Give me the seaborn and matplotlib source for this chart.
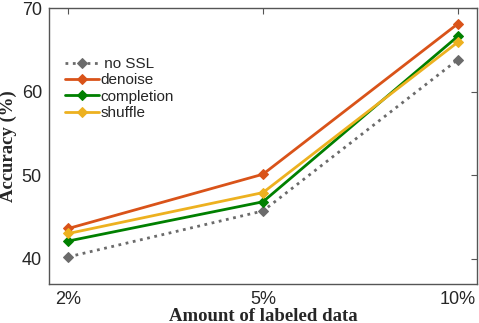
import pandas as pd
import matplotlib
matplotlib.use('Agg')
import matplotlib.pyplot as plt
import seaborn as sns

# Accuracy vs. amount of labeled data, per SSL pretext task
amounts = ['2%', '5%', '10%']
no_ssl = [40.2, 45.7, 63.8]
denoise = [43.6, 50.1, 68.1]
completion = [42.1, 46.8, 66.6]
shuffle = [43.0, 47.9, 65.9]

series = {' no SSL': no_ssl, 'denoise': denoise, 'completion': completion, 'shuffle': shuffle}
colors = {' no SSL': '#6b6b6b', 'denoise': '#D95319', 'completion': '#008000', 'shuffle': '#EDB120'}
styles = {' no SSL': ':', 'denoise': '-', 'completion': '-', 'shuffle': '-'}

rows = []
for name, vals in series.items():
    for i, v in enumerate(vals):
        rows.append({'pos': i, 'amount': amounts[i], 'acc': v, 'method': name})
df = pd.DataFrame(rows)

sns.set_style('white')
plt.rcParams['font.family'] = ['Liberation Sans', 'DejaVu Sans']

fig = plt.figure(figsize=(4.79, 3.23), dpi=100)
ax = fig.add_axes([0.102, 0.122, 0.894, 0.853])

for name in series:
    sub = df[df['method'] == name]
    sns.lineplot(data=sub, x='pos', y='acc', ax=ax, color=colors[name],
                 linestyle=styles[name], linewidth=2, marker='D', markersize=5.5,
                 markeredgecolor=colors[name], label=name)

ax.set_xlim(-0.1, 2.1)
ax.set_ylim(37, 70)
ax.set_xticks(range(len(amounts)))
ax.set_xticklabels(amounts)
ax.set_yticks([40, 50, 60, 70])
ax.tick_params(axis='both', direction='in', top=True, right=True, labelsize=13,
               length=4, color='#555555')
ax.tick_params(axis='x', pad=5)
ax.tick_params(axis='y', pad=5)
for s in ax.spines.values():
    s.set_color('#555555')
    s.set_linewidth(1)

label_font = dict(family='Liberation Serif', weight='bold', fontsize=13.5)
ax.set_xlabel('Amount of labeled data', labelpad=0, **label_font)
ax.set_ylabel('Accuracy (%)', labelpad=3, **label_font)

ax.legend(loc='upper left', bbox_to_anchor=(0.02, 0.85), frameon=False,
          fontsize=11, handlelength=2.2, handletextpad=0.1, labelspacing=0.15,
          borderpad=0)

fig.savefig('out.png', dpi=100)
